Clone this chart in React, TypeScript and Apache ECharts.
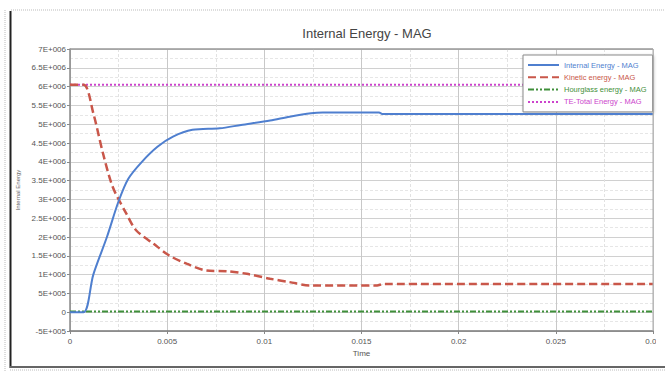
import React, { useEffect, useRef } from "react";
import * as echarts from "echarts";

const title = "Internal Energy - MAG";
const seriesNames = [
  "Internal Energy - MAG",
  "Kinetic energy - MAG",
  "Hourglass energy - MAG",
  "TE-Total Energy - MAG",
];
const seriesColors = ["#4f7fcf", "#c9574a", "#3f8f3a", "#cc44cc"];

// [time, value]
const internalEnergy: [number, number][] = [
  [0, 0], [0.0007, 0], [0.0012, 1.0e6], [0.0019, 2.0e6], [0.0025, 2.95e6],
  [0.003, 3.55e6], [0.0037, 4.0e6], [0.0045, 4.4e6], [0.0053, 4.67e6],
  [0.0063, 4.85e6], [0.0077, 4.89e6], [0.0088, 4.98e6],
  [0.0103, 5.1e6], [0.0113, 5.2e6], [0.0124, 5.29e6],
  [0.013, 5.31e6], [0.0159, 5.31e6], [0.0161, 5.27e6], [0.03, 5.27e6],
];
const kineticEnergy: [number, number][] = [
  [0, 6.05e6], [0.0007, 6.05e6], [0.0012, 5.29e6], [0.0017, 4.22e6],
  [0.0022, 3.33e6], [0.0029, 2.62e6], [0.0034, 2.18e6], [0.0043, 1.82e6],
  [0.0051, 1.51e6], [0.006, 1.29e6], [0.007, 1.11e6], [0.0081, 1.09e6],
  [0.0091, 1.02e6], [0.0103, 0.89e6], [0.0113, 0.8e6], [0.0124, 0.71e6],
  [0.0158, 0.71e6], [0.0161, 0.75e6], [0.03, 0.75e6],
];
const hourglassEnergy: [number, number][] = [
  [0, 2e4], [0.03, 2e4],
];
const totalEnergy: [number, number][] = [
  [0, 6.05e6], [0.03, 6.05e6],
];

const xTicks = { min: 0, max: 0.03, interval: 0.005 };
const yTicks = { min: -5e5, max: 7e6, interval: 5e5 };

function fmtY(v: number): string {
  if (v === 0) return "0";
  const a = Math.abs(v);
  const e = Math.floor(Math.log10(a) + 1e-9);
  const m = Math.round((v / Math.pow(10, e)) * 10) / 10;
  return `${m}E+${String(e).padStart(3, "0")}`;
}

export default function App() {
  const ref = useRef<HTMLDivElement>(null);
  useEffect(() => {
    if (!ref.current) return;
    const chart = echarts.init(ref.current, undefined, { renderer: "svg" });
    const font = "Liberation Sans, Arial, sans-serif";
    const dashes: any[] = ["solid", [8, 4], [6, 2, 2, 2, 2, 2], [2, 2]];
    const widths = [2, 2.5, 2, 2];
    const datas = [internalEnergy, kineticEnergy, hourglassEnergy, totalEnergy];
    chart.setOption({
      animation: false,
      backgroundColor: "#ffffff",
      textStyle: { fontFamily: font },
      title: {
        text: title,
        left: 362,
        textAlign: "center",
        top: 22,
        textStyle: { fontSize: 13, fontWeight: "normal", color: "#444", fontFamily: font },
      },
      legend: {
        orient: "vertical",
        left: 523,
        top: 55,
        padding: [6, 6, 6, 4],
        itemWidth: 31,
        itemHeight: 10,
        itemGap: 4.3,
        backgroundColor: "#ffffff",
        borderColor: "#8a8a8a",
        borderWidth: 1,
        shadowColor: "rgba(0,0,0,0.25)",
        shadowBlur: 3,
        shadowOffsetX: 1,
        shadowOffsetY: 1,
        itemStyle: { color: "transparent", borderColor: "transparent", borderWidth: 0 },
        data: seriesNames.map((n, i) => ({
          name: n,
          textStyle: { color: seriesColors[i], fontSize: 7.5, fontFamily: font },
        })),
      },
      grid: { left: 70, right: 12, top: 49, bottom: 40 },
      xAxis: {
        type: "value",
        min: xTicks.min,
        max: xTicks.max,
        interval: xTicks.interval,
        name: "Time",
        nameLocation: "middle",
        nameGap: 18,
        nameTextStyle: { fontSize: 8, color: "#555" },
        axisLine: { show: true, onZero: false, lineStyle: { color: "#777", width: 1.5 } },
        axisTick: { show: true, length: 3, lineStyle: { color: "#888" } },
        axisLabel: {
          fontSize: 8,
          color: "#555",
          margin: 6,
          formatter: (v: number) => (v === 0 ? "0" : String(+v.toFixed(3))),
        },
        splitLine: { show: true, lineStyle: { color: "#c8c8c8", width: 1 } },
        minorTick: { show: false, splitNumber: 2 },
        minorSplitLine: { show: true, lineStyle: { color: "#e2e2e2", type: [3, 2] } },
      },
      yAxis: {
        type: "value",
        min: yTicks.min,
        max: yTicks.max,
        interval: yTicks.interval,
        name: "Internal Energy",
        nameLocation: "middle",
        nameGap: 38,
        nameTextStyle: { fontSize: 6, color: "#666" },
        axisLine: { show: true, lineStyle: { color: "#888", width: 1.5 } },
        axisTick: { show: true, length: 3, lineStyle: { color: "#888" } },
        axisLabel: { fontSize: 8, color: "#555", margin: 4, formatter: fmtY },
        splitLine: { show: true, lineStyle: { color: "#d0d0d0", width: 1 } },
        minorTick: { show: false, splitNumber: 2 },
        minorSplitLine: { show: true, lineStyle: { color: "#e6e6e6", type: [3, 2] } },
      },
      series: seriesNames.map((n, i) => ({
        name: n,
        type: "line",
        data: datas[i],
        showSymbol: false,
        symbol: "none",
        smooth: i < 2 ? 0.3 : false,
        color: seriesColors[i],
        lineStyle: { color: seriesColors[i], width: widths[i], type: dashes[i] },
        z: 5 - i,
      })),
      graphic: [
        {
          type: "line",
          shape: { x1: 11, y1: 10, x2: 665, y2: 10 },
          style: { stroke: "#bbb", lineWidth: 1, lineDash: [1, 1] },
        },
        {
          type: "line",
          shape: { x1: 5, y1: 10, x2: 5, y2: 371 },
          style: { stroke: "#bbb", lineWidth: 1, lineDash: [1, 1] },
        },
        {
          type: "line",
          shape: { x1: 10.5, y1: 11, x2: 10.5, y2: 368 },
          style: { stroke: "#222", lineWidth: 2 },
        },
        {
          type: "line",
          shape: { x1: 10, y1: 367, x2: 665, y2: 367 },
          style: { stroke: "#666", lineWidth: 2 },
        },
        {
          type: "line",
          shape: { x1: 10, y1: 370, x2: 665, y2: 370 },
          style: { stroke: "#bbb", lineWidth: 1, lineDash: [1, 1] },
        },
        {
          type: "line",
          shape: { x1: 70, y1: 49, x2: 653, y2: 49 },
          style: { stroke: "#999", lineWidth: 1.5 },
          z: 10,
        },
        {
          type: "line",
          shape: { x1: 653, y1: 49, x2: 653, y2: 331 },
          style: { stroke: "#aaa", lineWidth: 1 },
          z: 10,
        },
        {
          type: "rect",
          shape: { x: 656, y: 334, width: 9, height: 20 },
          style: { fill: "#ffffff" },
          z: 100,
        },
      ],
    });
    return () => chart.dispose();
  }, []);
  return (
    <div
      ref={ref}
      style={{ position: "fixed", left: 0, top: 0, width: 665, height: 371 }}
    />
  );
}
